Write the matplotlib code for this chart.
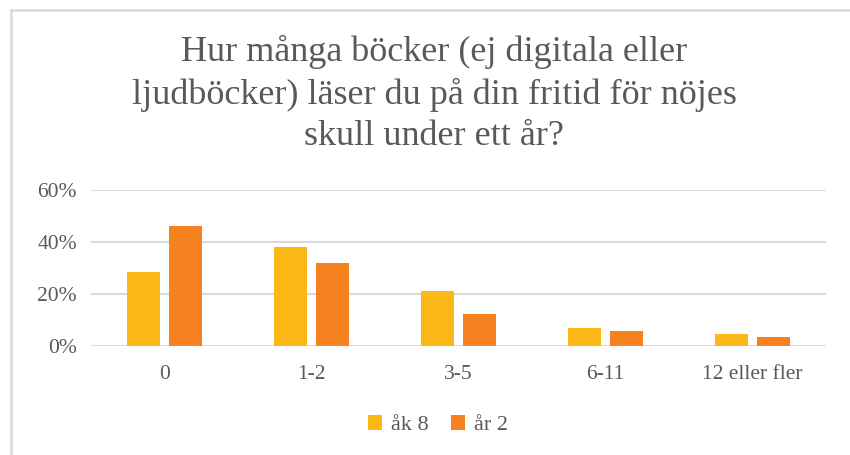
import matplotlib
matplotlib.use("Agg")
from matplotlib import pyplot as plt
import numpy as np

plt.rcParams['font.family'] = ['Liberation Serif', 'DejaVu Serif']

title = "Hur många böcker (ej digitala eller\nljudböcker) läser du på din fritid för nöjes\nskull under ett år?"
categories = ['0', '1-2', '3-5', '6-11', '12 eller fler']
ak8 = [0.284, 0.380, 0.213, 0.071, 0.048]
ar2 = [0.462, 0.318, 0.122, 0.057, 0.033]
series_names = ['åk 8', 'år 2']

text_col = '#595959'
grid_col = '#d9d9d9'

fig = plt.figure(figsize=(8.5, 4.55), dpi=100)
ax = fig.add_axes([91/850, 1-346/455, 735/850, 156/455])

x = np.arange(len(categories))
w = 0.222
off = 0.143
ax.bar(x - off, ak8, w, color='#fbb817', label=series_names[0], zorder=3)
ax.bar(x + off, ar2, w, color='#f5821f', label=series_names[1], zorder=3)

ax.set_xlim(-0.5, len(categories) - 0.5)
ax.set_ylim(0, 0.6)
ax.set_yticks([0, 0.2, 0.4, 0.6])
ax.set_yticklabels(['0%', '20%', '40%', '60%'])
ax.set_xticks(x)
ax.set_xticklabels(categories)
ax.tick_params(length=0, labelsize=15.5, labelcolor=text_col)
ax.tick_params(axis='x', pad=14)
ax.tick_params(axis='y', pad=10)
ax.grid(axis='y', color=grid_col, linewidth=1.5, zorder=0)
for s in ax.spines.values():
    s.set_visible(False)

fig.text(434/850, 1-35/455, title, ha='center', va='top', fontsize=26,
         color=text_col, linespacing=1.32)

fig.legend(loc='center', bbox_to_anchor=(438/850, 1-425/455), ncol=2,
           frameon=False, fontsize=16, labelcolor=text_col, handlelength=0.65,
           handleheight=0.65, handletextpad=0.4, columnspacing=1.0)

# chart border (only top and left edges are inside the picture)
fig.add_artist(plt.Line2D([11/850, 1.02], [1-10/455, 1-10/455], color=grid_col, linewidth=1.8))
fig.add_artist(plt.Line2D([11/850, 11/850], [-0.02, 1-10/455], color=grid_col, linewidth=1.8))

fig.savefig('out.png', dpi=100)
